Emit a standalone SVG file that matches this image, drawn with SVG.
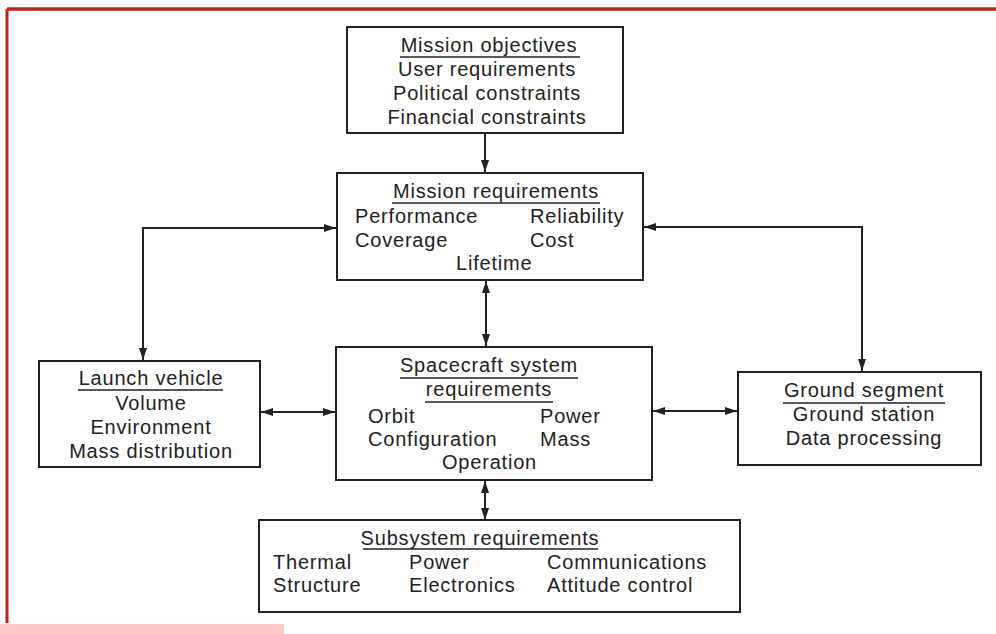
<svg xmlns="http://www.w3.org/2000/svg" width="996" height="634" viewBox="0 0 996 634">
<defs>
<marker id="ah" markerUnits="userSpaceOnUse" markerWidth="12" markerHeight="8" refX="12" refY="4" orient="auto-start-reverse">
<path d="M0,0 L12,4 L0,8 z" fill="#222"/>
</marker>
<style>
.box{fill:#fff;stroke:#222;stroke-width:2}
.t{font-family:"Liberation Sans",Arial,sans-serif;font-size:20px;letter-spacing:0.8px;fill:#222}
.c{text-anchor:middle}
.u{stroke:#222;stroke-width:1.5}
.con{fill:none;stroke:#222;stroke-width:2}
</style>
</defs>
<rect x="0" y="0" width="996" height="634" fill="#fff"/>
<g id="frame">
<line x1="7" y1="9" x2="996" y2="9" stroke="#c0201e" stroke-width="3.5"/>
<line x1="7" y1="9" x2="7" y2="623" stroke="#c0201e" stroke-width="3"/>
<rect x="0" y="624" width="284" height="10" fill="#ffcaca"/>
</g>
<g id="connectors">
<line class="con" x1="485" y1="133" x2="485" y2="172" marker-end="url(#ah)"/>
<path class="con" d="M336,228 H143 V360" marker-start="url(#ah)" marker-end="url(#ah)"/>
<path class="con" d="M644,227 H862 V371" marker-start="url(#ah)" marker-end="url(#ah)"/>
<line class="con" x1="486" y1="281" x2="486" y2="346" marker-start="url(#ah)" marker-end="url(#ah)"/>
<line class="con" x1="485" y1="481" x2="485" y2="520" marker-start="url(#ah)" marker-end="url(#ah)"/>
<line class="con" x1="261" y1="412" x2="335" y2="412" marker-start="url(#ah)" marker-end="url(#ah)"/>
<line class="con" x1="653" y1="411" x2="737" y2="411" marker-start="url(#ah)" marker-end="url(#ah)"/>
</g>
<g id="mission-objectives">
<rect class="box" x="347" y="27" width="276" height="106"/>
<text class="t c" x="489" y="52">Mission objectives</text>
<line class="u" x1="400" y1="57" x2="580" y2="57"/>
<text class="t c" x="487" y="76">User requirements</text>
<text class="t c" x="487" y="100">Political constraints</text>
<text class="t c" x="487" y="124">Financial constraints</text>
</g>
<g id="mission-requirements">
<rect class="box" x="337" y="173" width="306" height="107"/>
<text class="t c" x="496" y="198">Mission requirements</text>
<line class="u" x1="392" y1="203" x2="600" y2="203"/>
<text class="t" x="355" y="223">Performance</text>
<text class="t" x="530" y="223">Reliability</text>
<text class="t" x="355" y="247">Coverage</text>
<text class="t" x="530" y="247">Cost</text>
<text class="t" x="456" y="270">Lifetime</text>
</g>
<g id="spacecraft-system-requirements">
<rect class="box" x="336" y="347" width="316" height="133"/>
<text class="t c" x="489" y="372">Spacecraft system</text>
<line class="u" x1="400" y1="378" x2="578" y2="378"/>
<text class="t c" x="489" y="396">requirements</text>
<line class="u" x1="425" y1="402" x2="553" y2="402"/>
<text class="t" x="368" y="423">Orbit</text>
<text class="t" x="540" y="423">Power</text>
<text class="t" x="368" y="446">Configuration</text>
<text class="t" x="540" y="446">Mass</text>
<text class="t" x="442" y="469">Operation</text>
</g>
<g id="launch-vehicle">
<rect class="box" x="39" y="361" width="221" height="106"/>
<text class="t c" x="151" y="385">Launch vehicle</text>
<line class="u" x1="78" y1="390" x2="223" y2="390"/>
<text class="t c" x="151" y="410">Volume</text>
<text class="t c" x="151" y="434">Environment</text>
<text class="t c" x="151" y="458">Mass distribution</text>
</g>
<g id="ground-segment">
<rect class="box" x="738" y="372" width="243" height="93"/>
<text class="t c" x="864" y="397">Ground segment</text>
<line class="u" x1="783" y1="403" x2="945" y2="403"/>
<text class="t c" x="864" y="421">Ground station</text>
<text class="t c" x="864" y="445">Data processing</text>
</g>
<g id="subsystem-requirements">
<rect class="box" x="259" y="520" width="481" height="92"/>
<text class="t c" x="480" y="545">Subsystem requirements</text>
<line class="u" x1="363" y1="549" x2="598" y2="549"/>
<text class="t" x="273" y="569">Thermal</text>
<text class="t" x="409" y="569">Power</text>
<text class="t" x="547" y="569">Communications</text>
<text class="t" x="273" y="592">Structure</text>
<text class="t" x="409" y="592">Electronics</text>
<text class="t" x="547" y="592">Attitude control</text>
</g>
</svg>
